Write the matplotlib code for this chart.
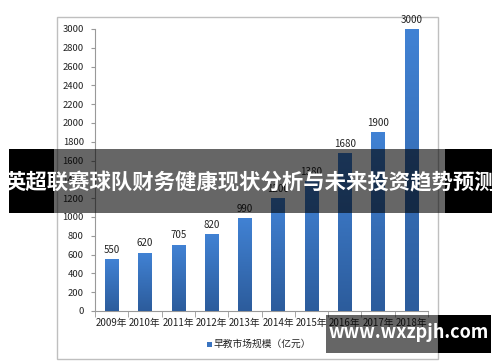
import numpy as np
import matplotlib
matplotlib.use('Agg')
import matplotlib.pyplot as plt
from matplotlib.patches import Rectangle

plt.rcParams['font.family'] = ['Noto Sans CJK SC', 'DejaVu Sans']

# data
years = ['2009年', '2010年', '2011年', '2012年', '2013年',
         '2014年', '2015年', '2016年', '2017年', '2018年']
values = [550, 620, 705, 820, 990, 1200, 1380, 1680, 1900, 3000]
title = '英超联赛球队财务健康现状分析与未来投资趋势预测'
legend_label = '早教市场规模（亿元）'
watermark = 'www.wxzpjh.com'

W, H = 500, 362
fig = plt.figure(figsize=(W / 100, H / 100), dpi=100)

def px(x0, y0, x1, y1):
    # pixel box (top-left origin) -> figure fraction
    return [x0 / W, 1 - y1 / H, (x1 - x0) / W, (y1 - y0) / H]

# chart frame
fx, fy, fw, fh = px(57, 17, 438, 359)
fig.patches.append(Rectangle((fx, fy), fw, fh, transform=fig.transFigure,
                             facecolor='white', edgecolor='#bfbfbf', lw=1, zorder=-1))

ax = fig.add_axes(px(95, 29, 428, 311))
ax.set_zorder(1)
x = np.arange(len(years))
bars = ax.bar(x, values, width=0.4, color='#3a74c0', zorder=2)

# vertical gradient inside each bar
grad = np.linspace(0, 1, 100).reshape(-1, 1)
cmap = matplotlib.colors.LinearSegmentedColormap.from_list('b', ['#2c5c9c', '#4182d4'])
for b in bars:
    im = ax.imshow(grad, cmap=cmap, aspect='auto', origin='lower', zorder=3,
                   extent=[b.get_x(), b.get_x() + b.get_width(), 0, b.get_height()])
    im.set_clip_path(b)

for xi, v in zip(x, values):
    ax.text(xi, v + 45, str(v), ha='center', va='bottom', fontsize=7,
            color='#222222', zorder=4)

ax.set_xlim(-0.5, len(years) - 0.5)
ax.set_ylim(0, 3000)
ax.set_yticks(range(0, 3001, 200))
ax.set_xticks(x)
ax.set_xticklabels(years)
ax.set_xticks(np.arange(-0.5, len(years), 1), minor=True)
ax.tick_params(axis='x', which='major', length=0, labelsize=7, colors='#222222', pad=5)
ax.tick_params(axis='x', which='minor', length=4, color='#999999')
ax.tick_params(axis='y', length=3, color='#999999', labelsize=6.8, labelcolor='#222222', pad=5)
for s in ['top', 'right']:
    ax.spines[s].set_visible(False)
ax.spines['left'].set_color('#999999')
ax.spines['bottom'].set_color('#999999')
ax.patch.set_alpha(0)

# legend
fig.patches.append(Rectangle((207 / W, 1 - 347 / H), 5 / W, 5 / H, transform=fig.transFigure,
                             facecolor='#3a74c0', edgecolor='none', zorder=5))
fig.text(214 / W, 1 - 344 / H, legend_label, fontsize=7, color='#222222', va='center')

# title banner overlay
for (x0, x1, a) in [(9, 54, 1.0), (54, 445, 0.6), (445, 492, 1.0)]:
    bx, by, bw, bh = px(x0, 149, x1, 213)
    fig.patches.append(Rectangle((bx, by), bw, bh, transform=fig.transFigure,
                                 facecolor='black', alpha=a, edgecolor='none', zorder=10))
fig.text(250.5 / W, 1 - 183 / H, title, ha='center', va='center', fontsize=15.4,
         fontweight='bold', color='white', zorder=11)

# watermark overlay
for (x0, x1, a) in [(326, 438, 0.6), (438, 491, 1.0)]:
    bx, by, bw, bh = px(x0, 315, x1, 353)
    fig.patches.append(Rectangle((bx, by), bw, bh, transform=fig.transFigure,
                                 facecolor='black', alpha=a, edgecolor='none', zorder=10))
fig.text(408.5 / W, 1 - 333 / H, watermark, ha='center', va='center', fontsize=13,
         fontweight='bold', color='white', zorder=11)

fig.savefig('out.png', dpi=100)
